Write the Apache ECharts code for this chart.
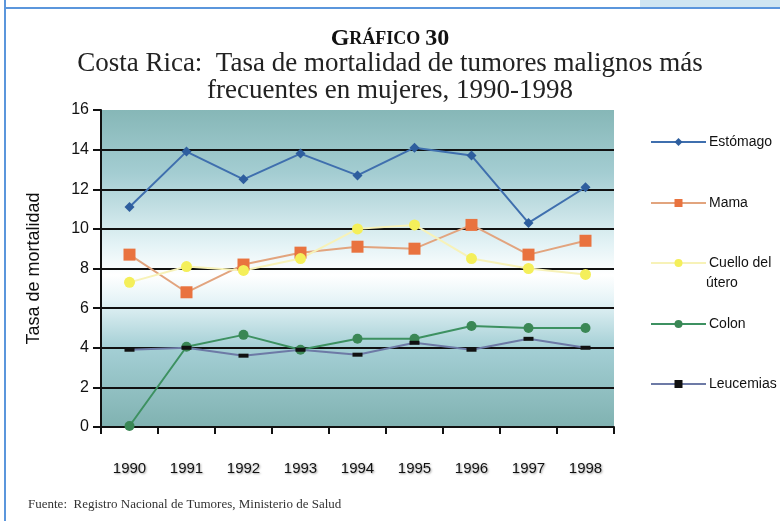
<!DOCTYPE html>
<html>
<head>
<meta charset="utf-8">
<script src="https://cdn.jsdelivr.net/npm/echarts@6/dist/echarts.min.js"></script>
<style>
    html, body { margin: 0; padding: 0; background: #fff; }
    #chart { width: 780px; height: 521px; }
</style>
</head>
<body>
<div id="chart"></div>
<script>
var years = ['1990', '1991', '1992', '1993', '1994', '1995', '1996', '1997', '1998'];
var yTicks = [0, 2, 4, 6, 8, 10, 12, 14, 16];
var estomago = [11.1, 13.9, 12.5, 13.8, 12.7, 14.1, 13.7, 10.3, 12.1];
var mama = [8.7, 6.8, 8.2, 8.8, 9.1, 9.0, 10.2, 8.7, 9.4];
var cuello = [7.3, 8.1, 7.9, 8.5, 10.0, 10.2, 8.5, 8.0, 7.7];
var colon = [0.05, 4.05, 4.65, 3.9, 4.45, 4.45, 5.1, 5.0, 5.0];
var leucemias = [3.9, 4.0, 3.6, 3.9, 3.65, 4.25, 3.9, 4.45, 4.0];

var sans = '"Liberation Sans", Arial, sans-serif';
var serif = '"Liberation Serif", "DejaVu Serif", serif';

var chart = echarts.init(document.getElementById('chart'));

function mkLegend(name, top) {
    return {
        data: [name],
        left: 645,
        top: top,
        itemWidth: 55,
        itemHeight: 10,
        itemGap: 4,
        selectedMode: false,
        formatter: function (n) { return n === 'Cuello del útero' ? 'Cuello del' : n; },
        textStyle: { fontFamily: sans, fontSize: 14, color: '#111', padding: [0, 0, 0, -2] }
    };
}

chart.setOption({
    backgroundColor: '#fff',
    animation: false,
    title: {
        text: '{g|G}{s|RÁFICO} {g|30}\n{t|Costa Rica:  Tasa de mortalidad de tumores malignos más}\n{t|frecuentes en mujeres, 1990-1998}',
        left: 'center',
        top: 23,
        textStyle: {
            fontWeight: 'normal',
            rich: {
                g: { fontFamily: serif, fontSize: 24, fontWeight: 'bold', color: '#111', lineHeight: 22, align: 'center' },
                s: { fontFamily: serif, fontSize: 18, fontWeight: 'bold', color: '#111', lineHeight: 22, align: 'center' },
                t: { fontFamily: serif, fontSize: 27, fontWeight: 'normal', color: '#222', lineHeight: 27, align: 'center' }
            }
        }
    },
    legend: [
        mkLegend('Estómago', 130),
        mkLegend('Mama', 191),
        mkLegend('Cuello del útero', 251),
        mkLegend('Colon', 312),
        mkLegend('Leucemias', 372)
    ],
    graphic: [
        { type: 'line', shape: { x1: 5, y1: 0, x2: 5, y2: 521 }, style: { stroke: '#5b96dc', lineWidth: 2 } },
        { type: 'line', shape: { x1: 5, y1: 8, x2: 780, y2: 8 }, style: { stroke: '#5b96dc', lineWidth: 2 } },
        { type: 'rect', shape: { x: 640, y: 0, width: 140, height: 7 }, style: { fill: '#cfe6f2' } },
        { type: 'text', left: 706, top: 276, style: { text: 'útero', fontFamily: sans, fontSize: 14, fill: '#111' } },
        { type: 'text', left: 28, top: 498, style: { text: 'Fuente:  Registro Nacional de Tumores, Ministerio de Salud', fontFamily: serif, fontSize: 13, fill: '#333' } }
    ],
    grid: {
        left: 101,
        right: 166,
        top: 110,
        bottom: 94,
        show: true,
        borderWidth: 0,
        backgroundColor: new echarts.graphic.LinearGradient(0, 0, 0, 1, [
            { offset: 0, color: '#86b7b7' },
            { offset: 0.2, color: '#a4cdd2' },
            { offset: 0.42, color: '#e2f2f5' },
            { offset: 0.52, color: '#ffffff' },
            { offset: 0.6, color: '#e6f4f7' },
            { offset: 0.75, color: '#a4cfd5' },
            { offset: 1, color: '#80b2b1' }
        ])
    },
    xAxis: {
        type: 'category',
        data: years,
        boundaryGap: true,
        axisLine: { lineStyle: { color: '#111', width: 2 } },
        axisTick: { show: true, length: 7, lineStyle: { color: '#111', width: 2 } },
        axisLabel: {
            margin: 34, fontFamily: sans, fontSize: 15, color: '#111',
            textShadowColor: 'rgba(0,0,0,0.35)', textShadowBlur: 2, textShadowOffsetX: 1, textShadowOffsetY: 1
        }
    },
    yAxis: {
        type: 'value',
        min: yTicks[0],
        max: yTicks[yTicks.length - 1],
        interval: 2,
        name: 'Tasa de mortalidad',
        nameLocation: 'middle',
        nameGap: 58,
        nameTextStyle: { fontFamily: sans, fontSize: 18, color: '#111' },
        axisLine: { show: true, lineStyle: { color: '#111', width: 2 } },
        axisTick: { show: true, length: 8, lineStyle: { color: '#111', width: 2 } },
        axisLabel: { margin: 12, fontFamily: sans, fontSize: 16, color: '#111' },
        splitLine: {
            show: true,
            lineStyle: {
                width: 2,
                color: ['#111', '#111', '#111', '#111', '#111', '#111', '#111', '#111', 'rgba(0,0,0,0)']
            }
        }
    },
    series: [
        {
            name: 'Estómago', type: 'line', data: estomago,
            symbol: 'diamond', symbolSize: 10,
            lineStyle: { color: '#3f6fae', width: 2 },
            itemStyle: { color: '#2e5e9e' }
        },
        {
            name: 'Mama', type: 'line', data: mama,
            symbol: 'rect', symbolSize: 12,
            lineStyle: { color: '#e2a47e', width: 2 },
            itemStyle: { color: '#e9733f' }
        },
        {
            name: 'Cuello del útero', type: 'line', data: cuello,
            symbol: 'circle', symbolSize: 11,
            lineStyle: { color: '#f7f2b8', width: 2 },
            itemStyle: { color: '#f4ef5a' }
        },
        {
            name: 'Colon', type: 'line', data: colon,
            symbol: 'circle', symbolSize: 10,
            lineStyle: { color: '#3d9161', width: 2 },
            itemStyle: { color: '#3a8755' }
        },
        {
            name: 'Leucemias', type: 'line', data: leucemias,
            symbol: 'rect', symbolSize: [10, 4],
            lineStyle: { color: '#6d7aa6', width: 2 },
            itemStyle: { color: '#111' }
        }
    ]
});
</script>
</body>
</html>
